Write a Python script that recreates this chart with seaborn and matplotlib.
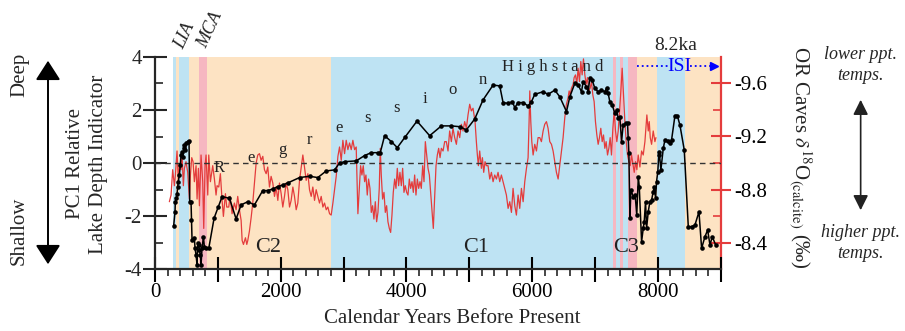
import matplotlib
matplotlib.use('Agg')
import matplotlib.pyplot as plt
from matplotlib.ticker import MultipleLocator, FixedLocator, FuncFormatter
import seaborn as sns

# ---------------- data ----------------
pc1_years = [297, 318, 323, 340, 350, 361, 371, 387, 403, 414, 430, 440, 456, 467, 483, 499, 520, 541,
             552, 573, 580, 589, 626, 637, 653, 669, 679, 695, 706, 722, 732, 748, 770, 785, 812, 855,
             940, 1008, 1067, 1184, 1290, 1370, 1476, 1582, 1714, 1794, 1874, 1953, 2033, 2123, 2299,
             2458, 2590, 2724, 2856, 2936, 3016, 3201, 3334, 3440, 3547, 3584, 3653, 3759, 3855, 3982,
             4168, 4370, 4556, 4715, 4848, 4954, 5087, 5219, 5379, 5485, 5538, 5617, 5686, 5724, 5777,
             5857, 5936, 5989, 6042, 6175, 6254, 6361, 6440, 6547, 6600, 6680, 6733, 6786, 6812, 6865,
             6892, 6919, 6956, 6998, 7051, 7104, 7157, 7184, 7210, 7237, 7274, 7317, 7343, 7370, 7396,
             7423, 7449, 7492, 7518, 7529, 7540, 7556, 7572, 7610, 7640, 7665, 7690, 7705, 7742, 7768,
             7784, 7805, 7821, 7848, 7874, 7901, 7927, 7943, 7965, 7980, 8000, 8015, 8023, 8049, 8087,
             8113, 8156, 8193, 8219, 8273, 8310, 8352, 8421, 8485, 8538, 8591, 8655, 8697, 8750, 8793,
             8830, 8867, 8920]
pc1_values = [-2.36, -1.84, -1.46, -1.33, -1.18, -0.89, -0.70, -0.45, -0.08, 0.30, 0.43, 0.24, 0.55, 0.68,
              0.49, 0.74, 0.81, 0.83, -1.46, -1.46, -2.15, -2.90, -2.84, -3.22, -3.47, -3.85, -3.03, -3.09,
              -3.28, -3.47, -3.85, -3.22, -2.78, -3.16, -3.22, -3.22, -2.08, -1.65, -1.27, -1.33, -2.11,
              -1.58, -1.46, -1.58, -1.04, -1.04, -0.98, -0.89, -0.83, -0.74, -0.55, -0.50, -0.55, -0.30,
              -0.26, 0.00, 0.05, 0.08, 0.28, 0.39, 0.39, 0.39, 1.03, 0.81, 0.58, 0.99, 1.58, 1.03, 1.40,
              1.40, 1.37, 1.25, 1.66, 2.38, 2.94, 2.91, 2.28, 2.25, 2.31, 2.09, 2.28, 2.28, 2.15, 2.31,
              2.59, 2.69, 2.59, 2.75, 2.50, 1.94, 2.50, 3.01, 2.94, 2.69, 3.07, 2.88, 2.69, 3.22, 3.13,
              2.82, 2.69, 2.75, 2.69, 2.82, 2.63, 2.31, 2.19, 1.87, 2.00, 1.69, 1.75, 0.81, 1.43, 1.50,
              1.50, 0.93, 0.36, -2.09, -1.02, -1.27, -1.21, -1.96, -0.52, -0.89, -2.97, -2.47, -2.21,
              -1.46, -2.47, -1.84, -1.46, -1.40, -1.08, -0.89, -1.33, -0.70, -0.33, 0.30, 0.43, -0.26,
              0.55, 0.87, 0.83, 0.74, 0.87, 1.79, 1.79, 1.43, 0.49, -2.40, -2.40, -2.34, -1.84, -3.22,
              -2.78, -2.53, -3.09, -2.78, -3.09]

d18o_years = [228, 255, 281, 308, 324, 350, 371, 387, 414, 430, 451, 467, 493, 520, 547, 563, 584, 605,
              626, 653, 669, 690, 706, 732, 759, 775, 796, 812, 839, 855, 881, 902, 918, 945, 971, 987,
              1014, 1040, 1067, 1088, 1120, 1141, 1173, 1194, 1226, 1263, 1290, 1316, 1343, 1370, 1386,
              1407, 1439, 1460, 1476, 1502, 1529, 1555, 1582, 1609, 1635, 1662, 1688, 1715, 1741, 1768,
              1794, 1821, 1847, 1874, 1901, 1927, 1954, 1980, 2007, 2033, 2060, 2086, 2113, 2140, 2166,
              2193, 2219, 2246, 2272, 2299, 2326, 2352, 2378, 2405, 2432, 2458, 2485, 2511, 2538, 2564,
              2591, 2617, 2644, 2671, 2697, 2724, 2750, 2777, 2803, 2830, 2857, 2883, 2910, 2936, 2963,
              2989, 3016, 3042, 3069, 3095, 3122, 3148, 3175, 3201, 3228, 3250, 3271, 3292, 3313, 3335,
              3356, 3377, 3398, 3420, 3441, 3462, 3483, 3505, 3526, 3547, 3568, 3584, 3600, 3621, 3643,
              3664, 3685, 3706, 3728, 3749, 3770, 3791, 3813, 3834, 3855, 3876, 3897, 3919, 3940, 3961,
              3982, 4004, 4025, 4046, 4067, 4089, 4110, 4131, 4152, 4174, 4195, 4216, 4237, 4259, 4280,
              4301, 4322, 4344, 4365, 4386, 4407, 4428, 4450, 4471, 4492, 4513, 4535, 4556, 4583, 4609,
              4635, 4662, 4688, 4715, 4741, 4768, 4795, 4821, 4848, 4874, 4901, 4927, 4954, 4980, 5007,
              5033, 5060, 5076, 5092, 5113, 5129, 5145, 5166, 5193, 5209, 5230, 5251, 5272, 5299, 5326,
              5352, 5379, 5405, 5432, 5458, 5485, 5511, 5538, 5564, 5591, 5618, 5644, 5671, 5697, 5724,
              5750, 5777, 5803, 5830, 5857, 5883, 5910, 5936, 5952, 5963, 5979, 5995, 6016, 6042, 6069,
              6095, 6122, 6148, 6175, 6201, 6228, 6254, 6281, 6308, 6334, 6361, 6387, 6414, 6440, 6467,
              6493, 6520, 6546, 6573, 6589, 6605, 6626, 6653, 6669, 6690, 6711, 6732, 6754, 6775, 6796,
              6817, 6839, 6860, 6881, 6902, 6923, 6945, 6966, 6987, 7008, 7030, 7051, 7072, 7093, 7115,
              7136, 7157, 7178, 7200, 7221, 7242, 7263, 7285, 7306, 7327, 7348, 7370, 7391, 7412, 7433,
              7454, 7476, 7497, 7518, 7539, 7561, 7582, 7609, 7625, 7646, 7667, 7688, 7715, 7742, 7768,
              7795, 7811, 7826, 7848, 7864, 7880, 7901, 7927, 7954, 7970]
d18o_values = [-8.71, -8.76, -8.95, -8.83, -8.91, -9.09, -8.86, -8.98, -8.95, -9.06, -8.83, -8.96, -9.01,
               -8.93, -8.73, -8.91, -9.04, -9.01, -8.86, -8.98, -8.73, -8.96, -8.68, -9.06, -8.86, -8.51,
               -8.98, -9.06, -8.76, -9.06, -8.86, -8.93, -8.98, -8.88, -8.76, -8.83,
               -8.82, -8.92, -8.72, -8.60, -8.77, -8.67, -8.67, -8.75, -8.62, -8.70, -8.65, -8.75, -8.65,
               -8.57, -8.42, -8.39, -8.44, -8.39, -8.42, -8.49, -8.59, -8.70, -8.85, -9.00, -9.06, -9.07,
               -9.02, -9.05, -8.95, -8.92, -8.97, -8.82, -8.90, -8.85, -8.75, -8.82, -8.72, -8.85, -8.77,
               -8.67, -8.75, -8.85, -8.80, -8.67, -8.72, -8.82, -8.75, -8.65, -8.70, -8.87, -8.97, -9.06,
               -8.97, -8.87, -8.92, -8.80, -8.75, -8.82, -8.72, -8.80, -8.75, -8.70, -8.75, -8.67, -8.70,
               -8.65, -8.67, -8.62, -8.61, -8.70, -8.80, -8.90, -9.05, -9.12, -9.02, -9.17, -9.07, -9.17,
               -9.10, -9.15, -9.10, -9.17, -9.10, -9.12, -8.62, -8.81, -8.98, -8.91, -8.98, -8.86, -8.91,
               -8.76, -8.88, -8.81, -8.63, -8.68, -8.58, -8.71, -8.56, -8.63, -8.81, -9.11, -8.91, -8.73,
               -8.78, -8.63, -8.68, -8.56, -8.51, -8.48, -8.61, -8.78, -8.88, -8.81, -8.96, -8.83, -8.93,
               -8.83, -8.96, -8.78, -8.83, -8.78, -8.76, -8.88, -8.81, -8.86, -8.78, -8.91, -8.76, -8.88,
               -8.81, -8.86, -8.81, -8.98, -8.86, -9.16, -9.06, -8.96, -8.91, -8.78, -8.66, -8.51, -8.76,
               -8.98, -9.06, -9.11, -9.04, -9.11, -9.09, -9.16, -9.16, -9.09, -9.24, -9.16, -9.26, -9.19,
               -9.14, -9.24, -9.19, -9.29, -9.24, -9.31, -9.26, -9.36, -9.44, -9.39, -9.41, -9.36, -9.31,
               -9.16, -9.06, -8.98, -9.09, -8.96, -9.04, -8.93, -9.01, -8.98, -8.98, -8.88, -8.93, -8.86,
               -8.91, -8.88, -8.93, -8.86, -8.91, -8.86, -8.81, -8.76, -8.66, -8.71, -8.63, -8.81, -8.68,
               -8.61, -8.76, -8.66, -8.81, -8.71, -8.86, -8.96, -9.04, -9.31, -9.54, -9.31, -9.16, -9.06,
               -9.14, -9.09, -9.19, -9.19, -9.16, -9.24, -9.29, -9.31, -9.26, -9.16, -9.14, -9.09, -9.01,
               -8.93, -8.88, -8.98, -9.09, -9.19, -9.34, -9.44, -9.49, -9.54, -9.51, -9.56, -9.59, -9.64,
               -9.66, -9.59, -9.71, -9.61, -9.76, -9.66, -9.78, -9.66, -9.59, -9.64, -9.54, -9.56, -9.61,
               -9.51, -9.46, -9.31, -9.21, -9.14, -9.19, -9.26, -9.16, -9.21, -9.11, -9.16, -9.06, -9.11,
               -9.19, -9.06, -9.26, -9.39, -9.24, -9.16, -9.24, -9.39, -9.54, -9.71, -9.51, -9.31, -9.16,
               -9.06, -9.01, -8.98, -9.06, -8.98, -8.93, -9.01, -8.95, -9.06, -8.97, -9.09, -9.06, -9.16,
               -9.26, -9.36, -9.24, -9.31, -9.19, -9.14, -9.24, -9.16, -9.19]

# climate-period shading (years BP)
band_start = [280, 340, 387, 546, 706, 822, 2803, 7285, 7328, 7396, 7444, 7523, 7666, 7995, 8430]
band_end = [340, 387, 546, 706, 822, 2803, 7285, 7328, 7396, 7444, 7523, 7666, 7985, 8430, 9000]
band_kind = ['cool', 'warm', 'cool', 'warm', 'anom', 'warm', 'cool', 'anom', 'cool', 'anom', 'cool',
             'anom', 'warm', 'cool', 'warm']

regression_letters = ['R', 'e', 'g', 'r', 'e', 's', 's', 'i', 'o', 'n']
regression_x = [1024, 1529, 2028, 2458, 2936, 3384, 3845, 4291, 4737, 5215]
regression_y = [-0.19, 0.19, 0.49, 0.87, 1.32, 1.70, 2.08, 2.42, 2.76, 3.13]

cycle_labels = ['C2', 'C1', 'C3']
cycle_x = [1792, 5103, 7488]
cycle_y = [-3.17, -3.17, -3.17]

x_tick_labels = ['0', '2000', '4000', '6000', '8000']
right_tick_values = [-9.6, -9.2, -8.8, -8.4]

# ---------------- style ----------------
sns.set_style('ticks')
plt.rcParams['font.family'] = ['Liberation Serif', 'DejaVu Serif']
plt.rcParams['mathtext.fontset'] = 'stix'
plt.rcParams['axes.unicode_minus'] = False

BLUE = '#bee3f3'
TAN = '#fde3c3'
PINK = '#f6b7c1'
RED = '#e43c3c'
band_colors = {'cool': BLUE, 'warm': TAN, 'anom': PINK}

fig = plt.figure(figsize=(9.05, 3.31), dpi=100)
ax = fig.add_axes([0.1713, 0.1873, 0.6250, 0.6405])
ax2 = ax.twinx()
ax.set_zorder(2)
ax2.set_zorder(1)
ax.patch.set_visible(False)

for s, e, k in zip(band_start, band_end, band_kind):
    ax2.axvspan(s, e, color=band_colors[k], lw=0, zorder=0)

sns.lineplot(x=d18o_years, y=d18o_values, ax=ax2, color=RED, lw=0.9, sort=False,
             estimator=None, zorder=2)
sns.lineplot(x=pc1_years, y=pc1_values, ax=ax, color='black', lw=1.1, marker='o',
             markersize=3.3, markeredgewidth=0, sort=False, estimator=None, zorder=3)
ax.axhline(0, color='#333333', lw=1.0, ls=(0, (4, 3)), zorder=2)

ax.set_xlim(0, 9000)
ax.set_ylim(-4, 4)
ax2.set_ylim(-8.206, -9.794)
ax.set_xlabel('')
ax.set_ylabel('')
ax2.set_ylabel('')

# spines
for sp in ['top', 'right']:
    ax.spines[sp].set_visible(False)
for sp in ['top', 'left', 'bottom']:
    ax2.spines[sp].set_visible(False)
ax.spines['left'].set_linewidth(1.6)
ax.spines['bottom'].set_linewidth(1.6)
ax2.spines['right'].set_color(RED)
ax2.spines['right'].set_linewidth(1.6)

# x ticks
ax.xaxis.set_major_locator(MultipleLocator(1000))
ax.xaxis.set_minor_locator(MultipleLocator(200))
ax.xaxis.set_major_formatter(FuncFormatter(
    lambda v, p: x_tick_labels[int(v) // 2000] if int(v) % 2000 == 0 and int(v) // 2000 < len(x_tick_labels) else ''))
ax.tick_params(axis='x', which='major', direction='inout', length=18, width=1.5,
               labelsize=15, pad=1, colors='black')
ax.tick_params(axis='x', which='minor', direction='out', length=5, width=1.2)
# left y ticks
ax.yaxis.set_major_locator(MultipleLocator(2))
ax.yaxis.set_minor_locator(MultipleLocator(1))
ax.tick_params(axis='y', which='major', direction='inout', length=17, width=1.5,
               labelsize=15, pad=1)
ax.tick_params(axis='y', which='minor', direction='in', length=6, width=1.2)
# right y ticks
ax2.yaxis.set_major_locator(FixedLocator(right_tick_values))
ax2.yaxis.set_minor_locator(FixedLocator([-9.4, -9.0, -8.6, -8.2]))
ax2.yaxis.set_major_formatter(FuncFormatter(lambda v, p: f'{v:.1f}'))
ax2.tick_params(axis='y', which='major', direction='inout', length=15, width=1.5,
                color=RED, labelcolor='black', labelsize=15, pad=2)
ax2.tick_params(axis='y', which='minor', direction='in', length=6, width=1.2, color=RED)

# axis labels
fig.text(0.5, 0.038, 'Calendar Years Before Present', ha='center', va='center', fontsize=15)
fig.text(87 / 905, 0.505, 'PC1 Relative\nLake Depth Indicator', rotation=90, ha='center',
         va='center', fontsize=15, linespacing=1.25, multialignment='center')
fig.text(0.884, 0.523, r'OR Caves $\delta^{18}$O$_{\mathrm{(calcite)}}$ (‰)', rotation=-90,
         ha='center', va='center', fontsize=15)

# Deep / Shallow
fig.text(19.5 / 905, 1 - 75 / 331, 'Deep', rotation=90, ha='center', va='center', fontsize=15)
fig.text(19.5 / 905, 1 - 231 / 331, 'Shallow', rotation=90, ha='center', va='center', fontsize=15)
fig.patches.append(matplotlib.patches.FancyArrowPatch(
    (48 / 905, 1 - 58 / 331), (48 / 905, 1 - 267 / 331), transform=fig.transFigure,
    arrowstyle='<|-|>,head_length=7,head_width=4.5', color='black', lw=1.4, mutation_scale=1.7))

# right side annotations
fig.text(0.951, 1 - 65 / 331, 'lower ppt.\ntemps.', style='italic', ha='center', va='center',
         fontsize=13, linespacing=1.3)
fig.text(0.951, 1 - 243 / 331, 'higher ppt.\ntemps.', style='italic', ha='center', va='center',
         fontsize=13, linespacing=1.3)
fig.patches.append(matplotlib.patches.FancyArrowPatch(
    (0.951, 1 - 97 / 331), (0.951, 1 - 213 / 331), transform=fig.transFigure,
    arrowstyle='<|-|>,head_length=6,head_width=3', color='#222222', lw=1.2, mutation_scale=1.5))

# LIA / MCA
fig.text(185 / 905, 1 - 36 / 331, 'LIA', rotation=65, style='italic', ha='center', va='center',
         fontsize=13)
fig.text(210 / 905, 1 - 30 / 331, 'MCA', rotation=65, style='italic', ha='center', va='center',
         fontsize=13)

# in-plot annotations
for t, x, y in zip(regression_letters, regression_x, regression_y):
    ax.text(x, y, t, ha='center', va='center', fontsize=12, color='#222222', zorder=4)
ax.text(6330, 3.62, 'H i g h s t a n d', ha='center', va='center', fontsize=12,
        color='#222222', zorder=4)
for t, x, y in zip(cycle_labels, cycle_x, cycle_y):
    ax.text(x, y, t, ha='center', va='center', fontsize=16, color='#222222', zorder=4)

ax.text(8290, 4.45, '8.2ka', ha='center', va='center', fontsize=14, clip_on=False)
ax.plot([7666, 8170], [3.66, 3.66], color='blue', ls=':', lw=1.3, zorder=4)
ax.text(8344, 3.66, 'ISI', ha='center', va='center', fontsize=14, color='blue', zorder=4)
ax.plot([8515, 8900], [3.66, 3.66], color='blue', ls=':', lw=1.3, zorder=4)
ax.plot([8900], [3.66], marker='>', color='blue', markersize=6, zorder=4, clip_on=False)

fig.savefig('out.png', dpi=100)
